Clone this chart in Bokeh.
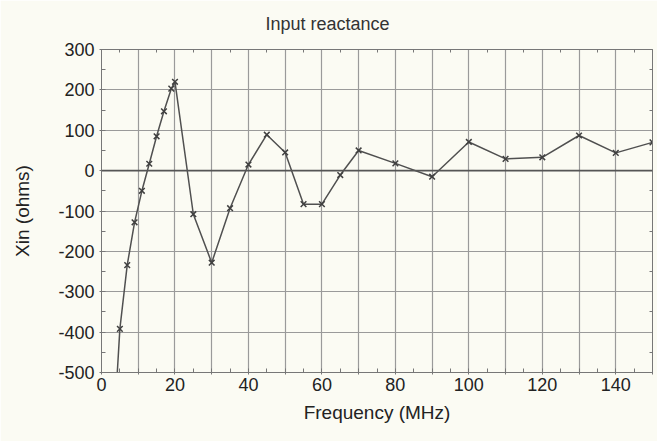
from bokeh.plotting import figure
from bokeh.models import FixedTicker, LinearAxis, Span, Range1d
from bokeh.embed import file_html
from bokeh.resources import INLINE

freq = [3, 5, 7, 9, 11, 13, 15, 17, 19, 20, 25, 30, 35, 40, 45, 50, 55, 60, 65,
        70, 80, 90, 100, 110, 120, 130, 140, 150]
xin = [-700, -392, -234, -128, -50, 17, 85, 147, 203, 220, -108, -228, -93, 15,
       89, 45, -83, -83, -11, 50, 18, -15, 71, 29, 33, 87, 44, 70]

x_ticks = [0, 10, 20, 30, 40, 50, 60, 70, 80, 90, 100, 110, 120, 130, 140, 150]
x_labels = {10: "", 30: "", 50: "", 70: "", 90: "", 110: "", 130: "", 150: ""}
x_minor = [5, 15, 25, 35, 45, 55, 65, 75, 85, 95, 105, 115, 125, 135, 145]
y_ticks = [-500, -400, -300, -200, -100, 0, 100, 200, 300]
y_labels = {v: str(v) for v in y_ticks}
y_minor = [-450, -350, -250, -150, -50, 50, 150, 250]
title_text = "Input reactance"

BG = "#fbfbf3"
FONT = "Liberation Sans"
AX = "#777777"

p = figure(width=657, height=441, output_backend="svg", toolbar_location=None,
           x_range=Range1d(0, 150), y_range=Range1d(-500, 300),
           min_border_left=101, min_border_right=5, min_border_top=48, min_border_bottom=69,
           background_fill_color=BG, border_fill_color=BG, outline_line_color=AX,
           title=title_text)
p.title.align = "left"
p.title.offset = 164
p.title.vertical_align = "top"
p.title.standoff = 27
p.title.text_font = FONT
p.title.text_font_size = "18px"
p.title.text_font_style = "normal"
p.title.text_color = "#333333"

p.xaxis.ticker = FixedTicker(ticks=x_ticks, minor_ticks=x_minor)
p.yaxis.ticker = FixedTicker(ticks=y_ticks, minor_ticks=y_minor)
p.xaxis.major_label_overrides = x_labels
p.yaxis.major_label_overrides = y_labels
p.xgrid.ticker = FixedTicker(ticks=x_ticks[1:-1])
p.ygrid.ticker = FixedTicker(ticks=y_ticks[1:-1])
for g in (p.xgrid, p.ygrid):
    g.grid_line_color = "#9a9a9a"
    g.grid_line_width = 1.2

for ax in (p.xaxis, p.yaxis):
    ax.axis_line_color = AX
    ax.major_tick_line_color = AX
    ax.minor_tick_line_color = AX
    ax.major_tick_in = 4
    ax.major_tick_out = 2
    ax.minor_tick_in = 4
    ax.minor_tick_out = 0
    ax.major_label_text_font = FONT
    ax.major_label_text_font_size = "18px"
    ax.major_label_text_color = "#222222"
    ax.axis_label_text_font = FONT
    ax.axis_label_text_font_size = "19px"
    ax.axis_label_text_font_style = "normal"
    ax.axis_label_text_color = "#222222"
p.xaxis.axis_label = "Frequency (MHz)"
p.yaxis.axis_label = "Xin (ohms)"
p.xaxis.major_label_standoff = 3
p.yaxis.major_label_standoff = 5
p.xaxis.axis_label_standoff = 8
p.yaxis.axis_label_standoff = 22

top = LinearAxis(ticker=FixedTicker(ticks=[], minor_ticks=x_minor),
                 major_tick_in=0, major_tick_out=0,
                 minor_tick_in=3, minor_tick_out=0, axis_line_color=AX,
                 minor_tick_line_color=AX, major_label_standoff=0)
right = LinearAxis(ticker=FixedTicker(ticks=[], minor_ticks=y_minor),
                   major_tick_in=0, major_tick_out=0,
                   minor_tick_in=3, minor_tick_out=0, axis_line_color=AX,
                   minor_tick_line_color=AX, major_label_standoff=0)
p.add_layout(top, "above")
p.add_layout(right, "right")

p.add_layout(Span(location=0, dimension="width", line_color="#555555", line_width=1.6))

p.line(freq, xin, line_color="#505050", line_width=1.5)
p.scatter(freq, xin, marker="x", size=8, line_color="#404040", line_width=1.5)

open("out.html", "w").write(file_html(p, INLINE))
